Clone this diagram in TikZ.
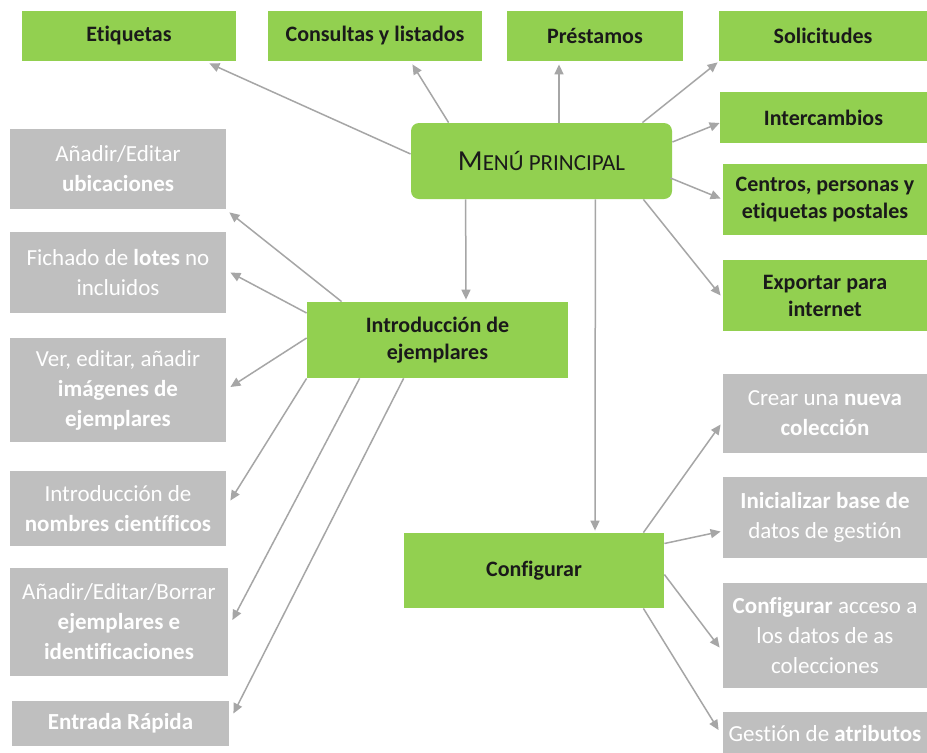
\documentclass[tikz,border=0pt]{standalone}
\usepackage{fontspec}
\setmainfont{Carlito}[Ligatures=CommonOff]
\usetikzlibrary{arrows.meta,calc}
\definecolor{menugreen}{HTML}{92D050}
\definecolor{boxgray}{HTML}{BFBFBF}
\definecolor{arrowgray}{HTML}{A6A6A6}
\definecolor{darktext}{HTML}{1A1A1A}
\begin{document}
\begin{tikzpicture}[x=0.5pt,y=-0.5pt,
    px/.style 2 args={minimum width=#1*0.5pt,minimum height=#2*0.5pt},
    mainbox/.style={fill=menugreen,text=darktext,align=center,inner sep=0pt,
        font=\fontsize{11}{13.5}\selectfont\bfseries},
    subbox/.style={fill=boxgray,text=white,align=center,inner sep=0pt,
        font=\fontsize{11.5}{15}\selectfont},
    link/.style={draw=arrowgray,line width=0.75pt,-{Triangle[length=5pt,width=4.5pt]}}]
    \fill[white] (0,0) rectangle (927,752);
    \useasboundingbox (0,0) rectangle (927,752);

    \node[mainbox,px={214}{50}] (etiquetas) at (129,36) {Etiquetas};
    \node[mainbox,px={214}{50}] (consultas) at (375,36) {Consultas y listados};
    \node[mainbox,px={176}{50}] (prestamos) at (595,36) {Préstamos};
    \node[mainbox,px={208}{50}] (solicitudes) at (823,36) {Solicitudes};
    \node[mainbox,px={207}{51}] (intercambios) at (823.5,117.5) {Intercambios};
    \node[mainbox,px={204}{71}] (centros) at (825,199.5) {Centros, personas y\\etiquetas postales};
    \node[mainbox,px={204}{71}] (exportar) at (825,295.5) {Exportar para\\internet};
    \node[mainbox,px={261}{76},rounded corners=4pt,font=\fontsize{11.5}{14}\selectfont] (menu) at (541.5,161)
        {{\fontsize{14.5}{16}\selectfont M}ENÚ PRINCIPAL};
    \node[mainbox,px={261}{76}] (intro) at (437.5,340) {Introducción de\\ejemplares};
    \node[mainbox,px={260}{75}] (config) at (534,570.5) {Configurar};

    \node[subbox,px={216}{80}] (ubicaciones) at (118,169) {Añadir/Editar\\\textbf{ubicaciones}};
    \node[subbox,px={216}{81}] (fichado) at (118,272.5) {Fichado de \textbf{lotes} no\\incluidos};
    \node[subbox,px={216}{104}] (imagenes) at (118,390) {Ver, editar, añadir\\\textbf{imágenes de}\\\textbf{ejemplares}};
    \node[subbox,px={216}{75}] (nombres) at (118,508.5) {Introducción de\\\textbf{nombres científicos}};
    \node[subbox,px={218}{108}] (borrar) at (119,622) {Añadir/Editar/Borrar\\\textbf{ejemplares e}\\\textbf{identificaciones}};
    \node[subbox,px={217}{45}] (rapida) at (120.5,723.5) {\textbf{Entrada Rápida}};

    \node[subbox,px={204}{79}] (coleccion) at (825,413.5) {Crear una \textbf{nueva}\\\textbf{colección}};
    \node[subbox,px={204}{81}] (inicializar) at (825,517.5) {\textbf{Inicializar base de}\\datos de gestión};
    \node[subbox,px={204}{105}] (acceso) at (825,635.5) {\textbf{Configurar} acceso a\\los datos de as\\colecciones};
    \node[subbox,px={204}{42}] (atributos) at (825,733) {Gestión de \textbf{atributos}};

    \draw[link] ($(menu.west)+(0,-7)$) -- ($(etiquetas.south east)+(-27,2)$);
    \draw[link] ($(menu.north west)+(38,0)$) -- ($(consultas.south east)+(-70,3)$);
    \draw[link] ($(menu.north)+(17.5,0)$) -- ($(prestamos.south)+(-36,3)$);
    \draw[link] ($(menu.north east)+(-30,0)$) -- ($(solicitudes.south west)+(-1,1)$);
    \draw[link] ($(menu.east)+(0,-19)$) -- ($(intercambios.west)+(0,5.5)$);
    \draw[link] ($(menu.east)+(-2,17)$) -- ($(centros.west)+(-2,-1)$);
    \draw[link] ($(menu.south east)+(-29,0)$) -- ($(exportar.west)+(-2,0)$);
    \draw[link] ($(menu.south west)+(55,0)$) -- ($(intro.north)+(28.5,-2)$);
    \draw[link] ($(menu.south east)+(-77,0)$) -- ($(config.north)+(61,-2)$);

    \draw[link] ($(intro.north west)+(35,0)$) -- ($(ubicaciones.south east)+(3,3)$);
    \draw[link] ($(intro.west)+(0,-27)$) -- ($(fichado.east)+(4,0)$);
    \draw[link] ($(intro.west)+(0,-2)$) -- ($(imagenes.east)+(4,-3)$);
    \draw[link] (intro.south west) -- ($(nombres.east)+(4,-8)$);
    \draw[link] ($(intro.south west)+(53,0)$) -- ($(borrar.east)+(4,-2)$);
    \draw[link] ($(intro.south west)+(97,0)$) -- ($(rapida.east)+(4,-10)$);

    \draw[link] ($(config.north east)+(-21,0)$) -- ($(coleccion.west)+(-2,11)$);
    \draw[link] ($(config.east)+(0,-27)$) -- ($(inicializar.west)+(-2,14)$);
    \draw[link] ($(config.east)+(0,4)$) -- ($(acceso.west)+(-3,12)$);
    \draw[link] ($(config.south east)+(-21,0)$) -- ($(atributos.west)+(-4,-3)$);
\end{tikzpicture}
\end{document}
